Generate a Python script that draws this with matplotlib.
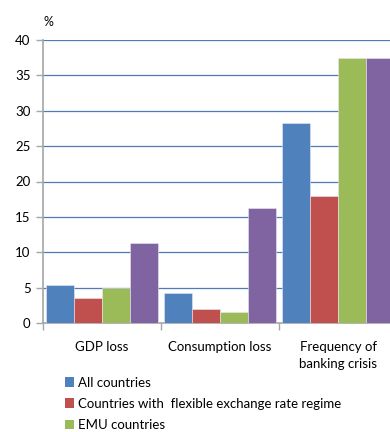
import numpy as np
import matplotlib.pyplot as plt
from matplotlib.patches import Patch

plt.rcParams['font.family'] = ['Lato', 'DejaVu Sans']

categories = ['GDP loss', 'Consumption loss', 'Frequency of\nbanking crisis']
series_names = ['All countries',
                'Countries with  flexible exchange rate regime',
                'EMU countries',
                'Non-EMU countries']
all_countries = [5.4, 4.2, 28.2]
flexible_regime = [3.5, 2.0, 18.0]
emu_countries = [5.0, 1.6, 37.5]
non_emu_countries = [11.3, 16.2, 37.5]
colors = ['#4F81BD', '#C0504D', '#9BBB59', '#8064A2']

series = [all_countries, flexible_regime, emu_countries, non_emu_countries]

fig = plt.figure(figsize=(3.9, 4.32), dpi=100)
ax = fig.add_axes([43 / 390, 1 - 323 / 432, 354 / 390, 283 / 432])

x = np.arange(len(categories))
width = 0.238
for i, (vals, col) in enumerate(zip(series, colors)):
    ax.bar(x + (i - 1.5) * width, vals, width, color=col,
           edgecolor='#e8e8f0', linewidth=0.4, zorder=3)

ax.set_xlim(-0.5, 2.5)
ax.set_ylim(0, 40)
ax.set_yticks(np.arange(0, 41, 5))
ax.yaxis.grid(True, color='#4F7AB5', linewidth=0.9, zorder=0)
ax.set_axisbelow(True)

# category boundaries get the tick marks, labels sit in the middle
ax.set_xticks([-0.5, 0.5, 1.5, 2.5])
ax.set_xticklabels([])
ax.set_xticks(x, minor=True)
ax.set_xticklabels(categories, minor=True, fontsize=9.5, va='top',
                   linespacing=1.45)
ax.tick_params(axis='x', which='minor', length=0, pad=13)
ax.tick_params(axis='x', which='major', length=5, color='#a6a6a6', width=1)
ax.tick_params(axis='y', length=5, color='#a6a6a6', width=1, labelsize=9.5,
               pad=4)

for side in ['top', 'right']:
    ax.spines[side].set_visible(False)
for side in ['left', 'bottom']:
    ax.spines[side].set_color('#a6a6a6')
    ax.spines[side].set_linewidth(1.2)

fig.text(48 / 390, 1 - 22 / 432, '%', fontsize=9, ha='center', va='center')

handles = [Patch(facecolor=c) for c in colors[:3]]
fig.legend(handles, series_names[:3], loc='upper left',
           bbox_to_anchor=(58 / 390, 1 - 370 / 432), frameon=False,
           fontsize=9.5, handlelength=0.75, handleheight=0.75,
           handletextpad=0.3, labelspacing=0.7, borderpad=0)

fig.savefig('out.png', dpi=100)
